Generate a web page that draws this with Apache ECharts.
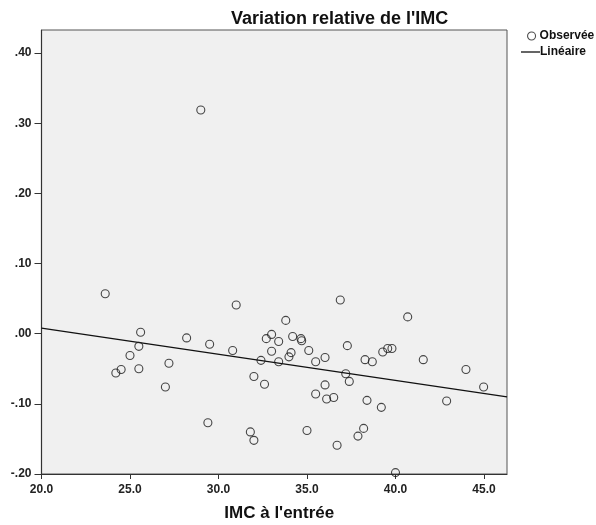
<!DOCTYPE html>
<html><head><meta charset="utf-8">
<script src="https://cdn.jsdelivr.net/npm/echarts@6/dist/echarts.min.js"></script>
<style>html,body{margin:0;padding:0;background:#fff}#c{width:596px;height:525px}</style>
</head><body><div id="c"></div>
<script>
// Observed points: [IMC à l'entrée, variation relative de l'IMC]
const observee = [
  [23.6, 0.057],[31.0, 0.041],[25.6, 0.002],[28.2, -0.006],[25.5, -0.018],[29.5, -0.015],
  [30.8, -0.024],[25.0, -0.031],[33.0, -0.001],[32.7, -0.007],[33.4, -0.011],[33.0, -0.025],
  [32.4, -0.038],[33.4, -0.040],[27.2, -0.042],[24.5, -0.051],[24.2, -0.056],[25.5, -0.050],
  [32.0, -0.061],[32.6, -0.072],[27.0, -0.076],[29.4, -0.127],[31.8, -0.140],[32.0, -0.152],
  [29.0, 0.319],
  [36.88, 0.048],[40.69, 0.024],[33.80, 0.019],[34.19, -0.004],[34.66, -0.007],[34.70, -0.010],
  [37.28, -0.017],[34.10, -0.027],[33.98, -0.033],[35.10, -0.024],[39.28, -0.026],[39.56, -0.021],
  [39.80, -0.021],[35.49, -0.040],[36.02, -0.034],[38.28, -0.037],[38.69, -0.040],[41.57, -0.037],
  [43.98, -0.051],[44.98, -0.076],[37.19, -0.057],[37.39, -0.068],[36.02, -0.073],[35.49, -0.086],
  [36.11, -0.093],[36.51, -0.091],[38.39, -0.095],[39.20, -0.105],[42.89, -0.096],[35.00, -0.138],
  [38.20, -0.135],[37.88, -0.146],[36.70, -0.159],[40.00, -0.198]
];
// Linear fit line endpoints
const lineaire = [[20.0, 0.008],[46.3, -0.090]];
const xTicks = [20, 25, 30, 35, 40, 45];
const yTicks = [-0.2, -0.1, 0, 0.1, 0.2, 0.3, 0.4];

const FONT = '"Liberation Sans", Arial, Helvetica, sans-serif';
const chart = echarts.init(document.getElementById('c'), null, {renderer: 'canvas'});
const fmtY = v => { let s = Number(v).toFixed(2); return s.replace(/^(-?)0\./, '$1.'); };
chart.setOption({
  animation: false,
  backgroundColor: '#ffffff',
  title: {
    text: "Variation relative de l'IMC",
    left: 231, top: 10, padding: 0,
    textStyle: {fontFamily: FONT, fontWeight: 'bold', fontSize: 18, color: '#111'}
  },
  legend: [
    {data: [{name: 'Observée', icon: 'circle',
             itemStyle: {color: 'rgba(0,0,0,0)', borderColor: '#222', borderWidth: 1.1}}],
     left: 527, top: 30, padding: 0, itemWidth: 8, itemHeight: 8, itemGap: 0,
     textStyle: {fontFamily: FONT, fontWeight: 'bold', fontSize: 12, color: '#111', padding: [0,0,0,-1]}},
    {data: [{name: 'Linéaire', icon: 'rect', itemStyle: {color: '#111', borderWidth: 0}}],
     left: 521, top: 46, padding: 0, itemWidth: 19, itemHeight: 1.3, itemGap: 0,
     textStyle: {fontFamily: FONT, fontWeight: 'bold', fontSize: 12, color: '#111', padding: [0,0,0,-5]}}
  ],
  grid: {
    left: 41.5, right: 89, top: 30, bottom: 51,
    outerBoundsMode: 'none', containLabel: false,
    show: true, backgroundColor: '#f0f0f0', borderColor: '#555', borderWidth: 1
  },
  xAxis: {
    type: 'value', min: 20, max: 46.3,
    name: "IMC à l'entrée", nameLocation: 'middle', nameGap: 31,
    nameTextStyle: {fontFamily: FONT, fontWeight: 'bold', fontSize: 17, color: '#111', padding: [0,0,0,10]},
    axisLine: {show: true, onZero: false, lineStyle: {color: '#333', width: 1.2}},
    axisTick: {show: true, length: 5, customValues: xTicks, lineStyle: {color: '#333'}},
    axisLabel: {customValues: xTicks, margin: 10, formatter: v => Number(v).toFixed(1),
      fontFamily: FONT, fontWeight: 'bold', fontSize: 12, color: '#222'},
    splitLine: {show: false}
  },
  yAxis: {
    type: 'value', min: -0.2, max: 0.433,
    axisLine: {show: true, onZero: false, lineStyle: {color: '#333', width: 1.2}},
    axisTick: {show: true, length: 7, customValues: yTicks, lineStyle: {color: '#333'}},
    axisLabel: {customValues: yTicks, margin: 10, formatter: fmtY,
      fontFamily: FONT, fontWeight: 'bold', fontSize: 12, color: '#222'},
    splitLine: {show: false}
  },
  series: [
    {name: 'Observée', type: 'scatter', data: observee, symbol: 'circle', symbolSize: 8,
     itemStyle: {color: 'rgba(0,0,0,0)', borderColor: '#1a1a1a', borderWidth: 1.1}, z: 3},
    {name: 'Linéaire', type: 'line', data: lineaire, symbol: 'none', showSymbol: false,
     lineStyle: {color: '#111', width: 1.3}, itemStyle: {color: '#111'}, z: 2}
  ]
});
</script></body></html>
